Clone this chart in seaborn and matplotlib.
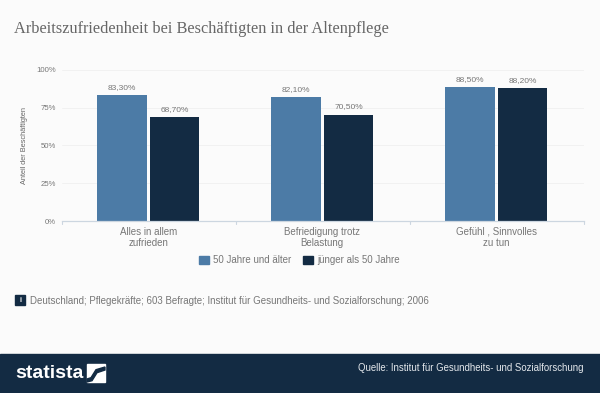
import pandas as pd
import matplotlib
matplotlib.use("Agg")
import matplotlib.pyplot as plt
from matplotlib.patches import Rectangle, Polygon
import seaborn as sns

# Values
categories = ['Alles in allem\nzufrieden', 'Befriedigung trotz\nBelastung', 'Gefühl , Sinnvolles\nzu tun']
older = [83.3, 82.1, 88.5]
younger = [68.7, 70.5, 88.2]
older_labels = ['83,30%', '82,10%', '88,50%']
younger_labels = ['68,70%', '70,50%', '88,20%']
series_names = ['50 Jahre und älter', 'jünger als 50 Jahre']
y_ticks = [0, 25, 50, 75, 100]
y_tick_labels = ['0%', '25%', '50%', '75%', '100%']

df = pd.DataFrame({
    'category': categories * 2,
    'value': older + younger,
    'series': [series_names[0]] * 3 + [series_names[1]] * 3,
})

W, H = 600, 393
BLUE = '#4c7ba6'
NAVY = '#132b43'
GREY = '#777777'


def fig_xy(points):
    # pixel positions (from top left) to figure fractions, for the logo only
    return [(x / W, 1 - y / H) for x, y in points]


sns.set_theme(style='white')
plt.rcParams['font.family'] = ['Liberation Sans', 'DejaVu Sans']

fig = plt.figure(figsize=(W / 100, H / 100), dpi=100, facecolor='#fbfbfb')
ax = fig.add_axes([62 / W, 1 - 221 / H, 522 / W, 151 / H], facecolor='none')

sns.barplot(data=df, x='category', y='value', hue='series', order=categories,
            hue_order=series_names, palette=[BLUE, NAVY], width=0.604, gap=0.053,
            saturation=1, linewidth=0, ax=ax, legend=False)

ax.set_xlim(-0.496, 2.504)
ax.set_ylim(0, 100)
ax.set_xlabel('')
ax.set_ylabel('Anteil der Beschäftigten', fontsize=5.3, color='#666666', labelpad=6)
ax.set_yticks(y_ticks)
ax.set_yticklabels(y_tick_labels, fontsize=5.6, color=GREY)
ax.tick_params(axis='y', length=0, pad=4.5)
ax.tick_params(axis='x', length=0, pad=4, labelsize=7, labelcolor=GREY)
ax.grid(axis='y', color='#f1f1f1', linewidth=0.7)
ax.set_axisbelow(True)
sns.despine(ax=ax, left=True, top=True, right=True)
ax.spines['bottom'].set_color('#ccd6e0')
ax.spines['bottom'].set_linewidth(0.9)

# small separators between the groups
for pos in [-0.496, 0.504, 1.504, 2.504]:
    ax.plot([pos, pos], [0, -2], color='#ccd6e0', lw=0.8, clip_on=False)

for cont, labels in zip(ax.containers, [older_labels, younger_labels]):
    ax.bar_label(cont, labels=labels, fontsize=6, color=GREY, padding=3)

# Legend
handles = [Rectangle((0, 0), 1, 1, color=BLUE), Rectangle((0, 0), 1, 1, color=NAVY)]
fig.legend(handles, series_names, loc='center', bbox_to_anchor=(299.5 / W, 1 - 260 / H),
           ncol=2, frameon=False, fontsize=7, labelcolor=GREY, handlelength=1.05,
           handleheight=0.9, handletextpad=0.45, columnspacing=1.15)

# Title
fig.text(14 / W, 1 - 29 / H, 'Arbeitszufriedenheit bei Beschäftigten in der Altenpflege',
         family='Liberation Serif', fontsize=11.8, color='#666666', va='center')

# Info line
fig.add_artist(Rectangle((15 / W, 1 - 305 / H), 10 / W, 10 / H, color=NAVY, transform=fig.transFigure))
fig.text(20 / W, 1 - 300 / H, 'i', color='white', fontsize=5, weight='bold', ha='center', va='center')
fig.text(30 / W, 1 - 301 / H, 'Deutschland; Pflegekräfte; 603 Befragte; Institut für Gesundheits- und Sozialforschung; 2006',
         fontsize=7, color=GREY, va='center')

# Footer
fig.add_artist(Rectangle((0, 0), 1, 39 / H, color=NAVY, transform=fig.transFigure))
fig.text(15 / W, 1 - 373 / H, 'statista', color='white', fontsize=14, weight='bold', va='center',
         family='Liberation Sans')
fig.add_artist(Rectangle((87 / W, 1 - 382 / H), 18 / W, 18 / H, color='white', transform=fig.transFigure))
fig.add_artist(Polygon(fig_xy([(87, 382), (92, 380.7), (97, 372.7), (105, 370), (105, 367),
                               (96, 369.7), (91, 377.7), (87, 379)]),
                       color=NAVY, transform=fig.transFigure))
fig.text(584 / W, 1 - 368 / H, 'Quelle: Institut für Gesundheits- und Sozialforschung', color='#e4e8ec',
         fontsize=6.9, ha='right', va='center')

fig.savefig('out.png', dpi=100, facecolor=fig.get_facecolor())
